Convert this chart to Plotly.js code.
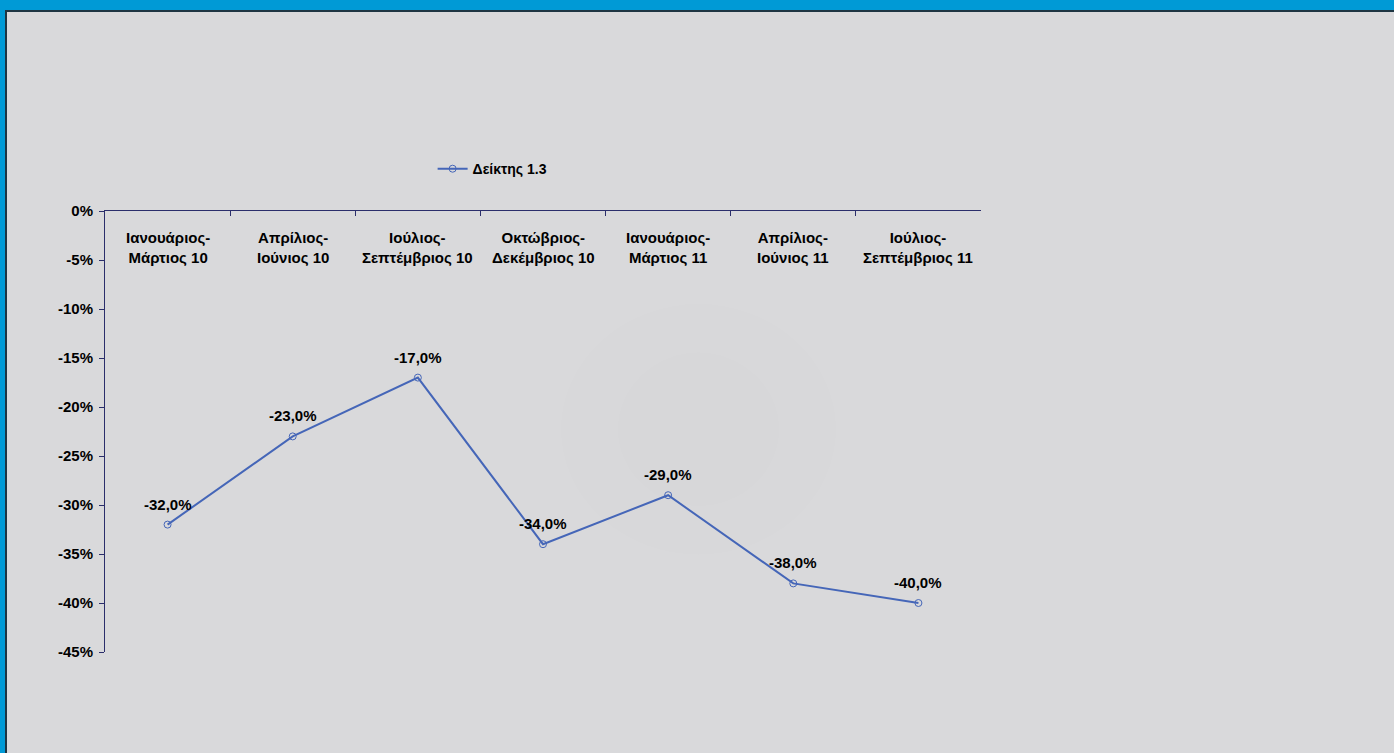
<!DOCTYPE html>
<html>
<head>
<meta charset="utf-8">
<script src="https://cdn.plot.ly/plotly-3.0.1.min.js"></script>
<style>
  html, body { margin: 0; padding: 0; width: 1394px; height: 753px; overflow: hidden; background: #009AD6; }
  #frame { position: absolute; left: 5px; top: 10px; width: 1387px; height: 741px;
           border-top: 2px solid #1E3542; border-left: 2px solid #1E3542; background: #D9D9DB; }
  #chart { width: 1387px; height: 741px; }
</style>
</head>
<body>
<div id="frame"><div id="chart"></div></div>
<script>
const categories = [
  'Ιανουάριος-<br>Μάρτιος 10',
  'Απρίλιος-<br>Ιούνιος 10',
  'Ιούλιος-<br>Σεπτέμβριος 10',
  'Οκτώβριος-<br>Δεκέμβριος 10',
  'Ιανουάριος-<br>Μάρτιος 11',
  'Απρίλιος-<br>Ιούνιος 11',
  'Ιούλιος-<br>Σεπτέμβριος 11'
];
const seriesName = 'Δείκτης 1.3';
const values = [-32, -23, -17, -34, -29, -38, -40];
const yTickVals = [0, -5, -10, -15, -20, -25, -30, -35, -40, -45];
const yTickText = ['0%', '-5%', '-10%', '-15%', '-20%', '-25%', '-30%', '-35%', '-40%', '-45%'];

const labels = values.map(v => v.toFixed(1).replace('.', ',') + '%');
const font = 'Liberation Sans, Arial, sans-serif';
const axisColor = '#2B2E6B';
const lineColor = '#4566B8';
const boldFont = (size) => ({ family: font, size: size, color: '#000000', weight: 'bold' });

const trace = {
  type: 'scatter',
  mode: 'lines+markers',
  x: categories,
  y: values,
  name: seriesName,
  line: { color: lineColor, width: 2 },
  marker: { symbol: 'circle-open', size: 7, color: lineColor, line: { width: 1, color: lineColor } },
  cliponaxis: false,
  hoverinfo: 'skip'
};

const annotations = [];
categories.forEach((c, i) => {
  annotations.push({
    x: c, xref: 'x', y: 1, yref: 'paper', yanchor: 'top', yshift: -16,
    text: c, showarrow: false, font: boldFont(15), align: 'center'
  });
  annotations.push({
    x: c, xref: 'x', y: values[i], yref: 'y', yanchor: 'bottom', yshift: 10,
    text: labels[i], showarrow: false, font: boldFont(15)
  });
});

const layout = {
  width: 1387,
  height: 741,
  paper_bgcolor: '#D9D9DB',
  plot_bgcolor: 'rgba(0,0,0,0)',
  margin: { l: 98, r: 413, t: 199, b: 101 },
  font: { family: font, size: 14, color: '#000000' },
  showlegend: true,
  legend: {
    x: 0.374, xanchor: 'left', y: 1.095, yanchor: 'middle',
    bgcolor: 'rgba(0,0,0,0)',
    font: boldFont(14)
  },
  xaxis: {
    type: 'category',
    range: [-0.5, 6.5],
    side: 'top',
    showline: true, linecolor: axisColor, linewidth: 1,
    showgrid: false, zeroline: false,
    ticks: 'inside', ticklen: 5, tickcolor: axisColor, tickson: 'boundaries',
    showticklabels: false,
    fixedrange: true
  },
  yaxis: {
    range: [-45, 0],
    showline: true, linecolor: axisColor, linewidth: 1,
    showgrid: false, zeroline: false,
    ticks: 'outside', ticklen: 5, tickcolor: axisColor,
    tickvals: yTickVals, ticktext: yTickText,
    ticklabelstandoff: 3,
    tickfont: boldFont(15),
    fixedrange: true
  },
  annotations: annotations,
  shapes: [
    { type: 'circle', xref: 'paper', yref: 'paper', x0: 0.52, x1: 0.835, y0: 0.22, y1: 0.79,
      line: { width: 0 }, fillcolor: 'rgba(0,0,0,0.004)', layer: 'below' },
    { type: 'circle', xref: 'paper', yref: 'paper', x0: 0.585, x1: 0.77, y0: 0.33, y1: 0.68,
      line: { width: 0 }, fillcolor: 'rgba(0,0,0,0.004)', layer: 'below' }
  ]
};

Plotly.newPlot('chart', [trace], layout, { displayModeBar: false, staticPlot: true });
</script>
</body>
</html>
